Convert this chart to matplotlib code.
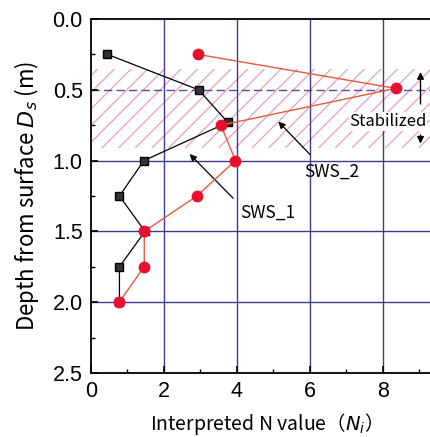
import matplotlib
matplotlib.use("Agg")
import matplotlib.pyplot as plt
from matplotlib.patches import Rectangle
from matplotlib.ticker import MultipleLocator

plt.rcParams['font.family'] = ['Noto Sans CJK JP', 'DejaVu Sans']
plt.rcParams['hatch.color'] = '#e69ccb'
plt.rcParams['hatch.linewidth'] = 0.9

# Data
sws1_n = [0.45, 2.95, 3.75, 1.45, 0.78, 1.48, 0.78, 0.78]
sws1_d = [0.25, 0.50, 0.73, 1.00, 1.25, 1.50, 1.75, 2.00]
sws2_n = [2.93, 8.35, 3.56, 3.96, 2.90, 1.46, 1.46, 0.77]
sws2_d = [0.25, 0.49, 0.75, 1.00, 1.25, 1.50, 1.75, 2.00]
stab_top, stab_bot = 0.35, 0.91
xticks = [0, 2, 4, 6, 8]
yticks = [0.0, 0.5, 1.0, 1.5, 2.0, 2.5]

fig = plt.figure(figsize=(4.30, 4.37), dpi=100)
ax = fig.add_axes([0.2116, 0.1465, 0.7884, 0.81])
xmax = 9.29
ax.set_xlim(0, xmax)
ax.set_ylim(2.5, 0.0)

grid_c = '#3c3c8e'
for x in [2, 4, 6, 8]:
    ax.axvline(x, color=grid_c, lw=1.0, zorder=1)
for y in [1.0, 1.5, 2.0]:
    ax.axhline(y, color=grid_c, lw=1.0, zorder=1)
ax.axhline(0.5, color='#5a4a9e', lw=1.0, ls=(0, (6, 3)), zorder=1)

ax.add_patch(Rectangle((0, stab_top), xmax, stab_bot - stab_top, fill=False,
                       hatch='//', lw=0, edgecolor='#e69ccb', zorder=0.5))

ax.plot(sws1_n, sws1_d, color='black', lw=0.9, marker='s', ms=5.5,
        mfc='#333333', mec='black', zorder=3)
ax.plot(sws2_n, sws2_d, color='#e8583c', lw=1.0, marker='o', ms=7.5,
        mfc='#e8102e', mec='#e8102e', zorder=4)

# annotations
ax.annotate('', xy=(5.08, 0.71), xytext=(6.05, 0.97),
            arrowprops=dict(arrowstyle='-|>', color='black', lw=0.9, mutation_scale=10))
ax.text(5.85, 1.08, 'SWS_2', fontsize=12.5, ha='left', va='center')
ax.annotate('', xy=(2.65, 0.94), xytext=(3.95, 1.28),
            arrowprops=dict(arrowstyle='-|>', color='black', lw=0.9, mutation_scale=10))
ax.text(4.1, 1.37, 'SWS_1', fontsize=12.5, ha='left', va='center')

ax.annotate('', xy=(9.03, 0.355), xytext=(9.03, 0.62),
            arrowprops=dict(arrowstyle='-|>', color='black', lw=1.0, mutation_scale=10))
ax.annotate('', xy=(9.03, 0.90), xytext=(9.03, 0.80),
            arrowprops=dict(arrowstyle='-|>', color='black', lw=1.0, mutation_scale=10))
ax.text(7.08, 0.725, 'Stabilized', fontsize=12, ha='left', va='center', clip_on=False,
        bbox=dict(facecolor='white', edgecolor='none', pad=0.5))

ax.set_xticks(xticks)
ax.set_xticklabels([str(v) for v in xticks], family=['Liberation Sans'])
ax.set_yticks(yticks)
ax.set_yticklabels(['%.1f' % v for v in yticks], family=['Liberation Sans'])
ax.xaxis.set_minor_locator(MultipleLocator(1))
ax.yaxis.set_minor_locator(MultipleLocator(0.25))
ax.tick_params(which='both', direction='in', labelsize=15.5, top=False, right=False)
ax.tick_params(which='major', length=5, width=1.2, pad=6)
ax.tick_params(which='minor', length=3, width=1.0)

for s in ['left', 'bottom', 'top']:
    ax.spines[s].set_linewidth(1.3)
ax.spines['right'].set_visible(False)

ax.set_xlabel('Interpreted N value\uff08' + r'$N_i$' + '\uff09', fontsize=14, labelpad=6)
ax.set_ylabel('Depth from surface ' + r'$D_s$' + ' (m)', fontsize=16, labelpad=8)

fig.savefig('out.png', dpi=100)
